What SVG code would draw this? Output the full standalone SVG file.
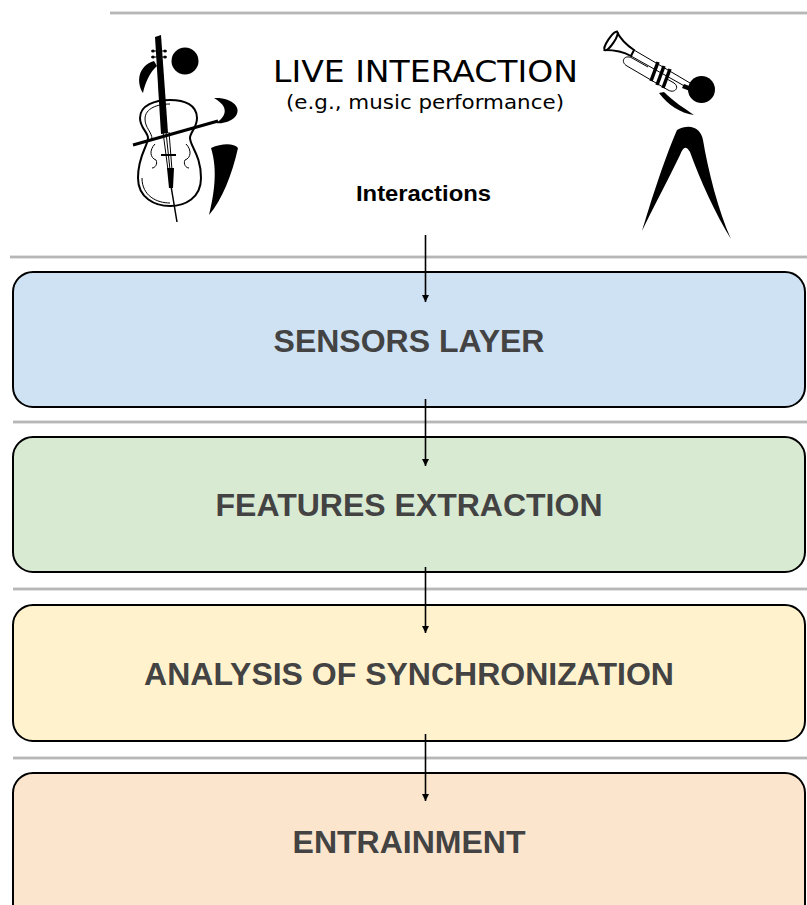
<svg xmlns="http://www.w3.org/2000/svg" width="807" height="905" viewBox="0 0 807 905">
  <style>
    .sep { stroke: #c4c4c4; stroke-width: 3; }
    .sep-core { stroke: #a9a9a9; stroke-width: 1; }
    .box { stroke: #000; stroke-width: 2; }
    .label { font-family: "Liberation Sans", Arial, sans-serif; font-weight: bold; font-size: 32px; fill: #434343; text-anchor: middle; }
    .title { font-family: "DejaVu Sans", Verdana, sans-serif; fill: #000; text-anchor: middle; }
    .sub { font-family: "Liberation Sans", Arial, sans-serif; font-weight: bold; font-size: 22px; fill: #000; text-anchor: middle; }
    .ink { fill: #000; }
    .outline { fill: #fff; stroke: #000; stroke-width: 2; }
    .thin { fill: none; stroke: #000; stroke-width: 1; }
    .conn { stroke: #000; stroke-width: 1.6; fill: none; }
  </style>
  <defs>
    <marker id="arrow" viewBox="0 0 10 10" refX="10" refY="5" markerWidth="7" markerHeight="7" markerUnits="userSpaceOnUse" orient="auto">
      <path d="M0,0 L10,5 L0,10 Z" fill="#000"/>
    </marker>
  </defs>

  <rect width="807" height="905" fill="#fff"/>

  <!-- layer separators -->
  <g id="separators">
    <line class="sep" x1="110" y1="13" x2="807" y2="13"/>
    <line class="sep-core" x1="110" y1="13" x2="807" y2="13"/>
    <line class="sep" x1="10" y1="257" x2="807" y2="257"/>
    <line class="sep-core" x1="10" y1="257" x2="807" y2="257"/>
    <line class="sep" x1="13" y1="422" x2="807" y2="422"/>
    <line class="sep-core" x1="13" y1="422" x2="807" y2="422"/>
    <line class="sep" x1="13" y1="589" x2="807" y2="589"/>
    <line class="sep-core" x1="13" y1="589" x2="807" y2="589"/>
    <line class="sep" x1="13" y1="758" x2="807" y2="758"/>
    <line class="sep-core" x1="13" y1="758" x2="807" y2="758"/>
  </g>

  <!-- header: live interaction -->
  <g id="live-interaction">
    <text class="title" x="425.5" y="82" font-size="30" textLength="305" lengthAdjust="spacingAndGlyphs">LIVE INTERACTION</text>
    <text class="title" x="425" y="109" font-size="19" textLength="278" lengthAdjust="spacingAndGlyphs">(e.g., music performance)</text>
    <text class="sub" x="423.5" y="201" textLength="135" lengthAdjust="spacingAndGlyphs">Interactions</text>
  </g>

  <!-- cellist -->
  <g id="cellist">
    <circle class="ink" cx="185" cy="61" r="13.5"/>
    <!-- hair / left arm -->
    <path class="ink" d="M154 61 C138 66 136 82 143 93 C145 83 150 72 157 66 Z"/>
    <!-- body of cello -->
    <path class="outline" d="M170 100 C155 100 140 105 140 118 C140 128 148 132 148 138 C148 146 138 155 138 178 C138 198 155 206 170 206 C185 206 201 198 201 178 C201 155 190 146 190 138 C190 132 197 128 197 118 C197 105 185 100 170 100 Z"/>
    <path class="thin" d="M170 104 C158 104 145 108 145 119 C145 128 152 132 152 139"/>
    <path class="thin" d="M170 203 C157 203 142 196 142 178"/>
    <!-- f-holes -->
    <path class="thin" d="M155 144 C149 150 150 158 156 160 C158 164 155 168 152 168"/>
    <path class="thin" d="M186 144 C192 150 191 158 185 160 C183 164 186 168 189 168"/>
    <!-- strings and bridge -->
    <path class="thin" d="M163 132 L168 170 M166 132 L170 170 M169 132 L172 170"/>
    <line x1="161" y1="155" x2="176" y2="155" stroke="#000" stroke-width="2"/>
    <!-- tailpiece and endpin -->
    <path class="ink" d="M167 168 L174 168 L173 188 L169 188 Z"/>
    <line x1="171" y1="186" x2="177" y2="222" stroke="#000" stroke-width="1.5"/>
    <!-- neck and scroll -->
    <path class="ink" d="M155 37 L161 35 L168 133 L161 134 Z"/>
    <circle class="ink" cx="153" cy="51" r="1.6"/>
    <circle class="ink" cx="153" cy="57" r="1.6"/>
    <circle class="ink" cx="165" cy="51" r="1.6"/>
    <circle class="ink" cx="165" cy="57" r="1.6"/>
    <line x1="151" y1="51" x2="167" y2="51" stroke="#000" stroke-width="1"/>
    <line x1="151" y1="57" x2="167" y2="57" stroke="#000" stroke-width="1"/>
    <!-- bow -->
    <line x1="133" y1="145" x2="218" y2="121" stroke="#000" stroke-width="3"/>
    <!-- right arm -->
    <path class="ink" d="M214 98 C232 97 243 108 235 117 C230 122 222 124 216 123 C226 117 230 107 214 98 Z"/>
    <!-- leg -->
    <path class="ink" d="M211 148 C222 143 234 143 238 148 C232 175 222 200 209 215 C214 195 218 170 211 148 Z"/>
  </g>

  <!-- trumpeter -->
  <g id="trumpeter">
    <!-- bell flare and rim -->
    <path class="outline" stroke-width="1.5" d="M605 50 C614 50 624 52 631 56 L634 50 C628 46 621 40 617 32 Z"/>
    <ellipse class="outline" stroke-width="1.5" cx="611" cy="41" rx="11" ry="3" transform="rotate(-56 611 41)"/>
    <!-- lead pipe -->
    <path class="thin" stroke-width="1.6" d="M631 56 L688 88"/>
    <path class="thin" stroke-width="1.6" d="M634 50 L690 83"/>
    <!-- tuning slide loop -->
    <path class="thin" stroke-width="1.6" d="M648 67 L632 58 C624 54 620 62 627 66 L668 90 C675 94 680 87 674 83 L667 79"/>
    <!-- valves -->
    <line x1="651" y1="81" x2="658" y2="62" stroke="#000" stroke-width="3.5"/>
    <line x1="657" y1="85" x2="664" y2="66" stroke="#000" stroke-width="3.5"/>
    <line x1="663" y1="88" x2="670" y2="69" stroke="#000" stroke-width="3.5"/>
    <!-- mouthpiece -->
    <path class="ink" d="M684 84 L692 87 L690 91 L682 88 Z"/>
    <!-- head -->
    <circle class="ink" cx="701.5" cy="89.5" r="13.5"/>
    <!-- shoulder -->
    <path class="ink" d="M659 93 C668 105 680 113 694 115 C684 108 674 102 664 92 Z"/>
    <!-- body and legs -->
    <path class="ink" d="M677 130 C690 123 701 128 703 140 C708 170 718 210 731 239 C716 215 700 180 690 152 C686 145 683 147 680 155 C668 180 652 210 642 231 C650 205 662 165 677 130 Z"/>
  </g>

  <!-- processing layers -->
  <g id="sensors-layer">
    <rect class="box" x="13" y="272" width="792" height="135" rx="20" fill="#cfe2f3"/>
    <text class="label" x="409" y="352">SENSORS LAYER</text>
  </g>
  <g id="features-extraction">
    <rect class="box" x="13" y="437" width="792" height="135" rx="20" fill="#d9ead3"/>
    <text class="label" x="409" y="516">FEATURES EXTRACTION</text>
  </g>
  <g id="analysis-of-synchronization">
    <rect class="box" x="13" y="605" width="792" height="136" rx="20" fill="#fff2cc"/>
    <text class="label" x="409" y="685">ANALYSIS OF SYNCHRONIZATION</text>
  </g>
  <g id="entrainment">
    <rect class="box" x="13" y="773" width="792" height="160" rx="20" fill="#fce5cd"/>
    <text class="label" x="409" y="853">ENTRAINMENT</text>
  </g>

  <!-- connectors -->
  <g id="connectors">
    <line class="conn" x1="425.5" y1="235" x2="425.5" y2="302" marker-end="url(#arrow)"/>
    <line class="conn" x1="425.5" y1="399" x2="425.5" y2="466" marker-end="url(#arrow)"/>
    <line class="conn" x1="425.5" y1="567" x2="425.5" y2="633" marker-end="url(#arrow)"/>
    <line class="conn" x1="425.5" y1="734" x2="425.5" y2="801" marker-end="url(#arrow)"/>
  </g>
</svg>
